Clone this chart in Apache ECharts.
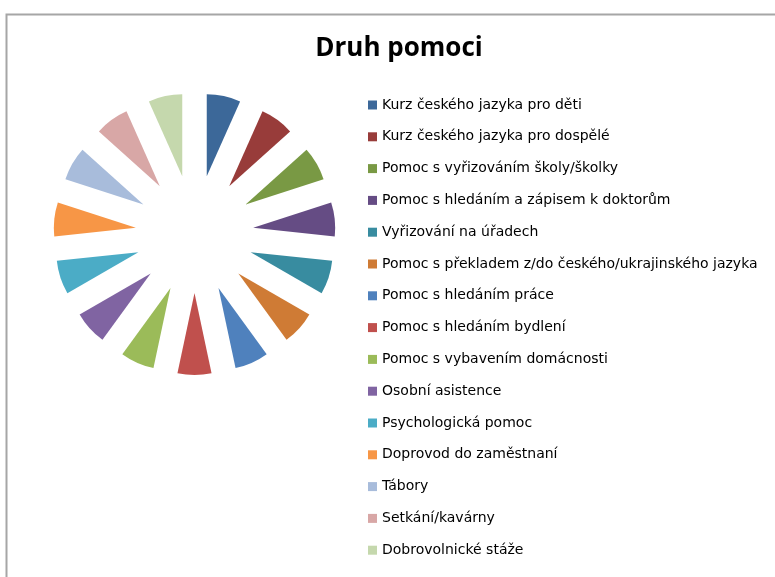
<!DOCTYPE html>
<html><head><meta charset="utf-8">
<script src="https://cdn.jsdelivr.net/npm/echarts@6/dist/echarts.min.js"></script>
<style>html,body{margin:0;padding:0;background:#fff}#c{width:775px;height:577px}</style>
</head><body><div id="c"></div>
<script>
const categories = [
  "Kurz českého jazyka pro děti",
  "Kurz českého jazyka pro dospělé",
  "Pomoc s vyřizováním školy/školky",
  "Pomoc s hledáním a zápisem k doktorům",
  "Vyřizování na úřadech",
  "Pomoc s překladem z/do českého/ukrajinského jazyka",
  "Pomoc s hledáním práce",
  "Pomoc s hledáním bydlení",
  "Pomoc s vybavením domácnosti",
  "Osobní asistence",
  "Psychologická pomoc",
  "Doprovod do zaměstnaní",
  "Tábory",
  "Setkání/kavárny",
  "Dobrovolnické stáže"
];
const values = [1,1,1,1,1,1,1,1,1,1,1,1,1,1,1];
const colors = ["#3C6899","#983C3A","#799944","#654C84","#388CA0","#CF7B35","#4F81BD","#C0504D","#9BBB59","#8064A2","#4BACC6","#F79646","#A8BCDB","#D8A7A6","#C5D8AD"];

const chart = echarts.init(document.getElementById('c'), null, {renderer:'canvas'});
chart.setOption({
  animation: false,
  color: colors,
  title: {
    text: 'Druh pomoci', left: 399, top: 36, textAlign: 'center', padding: 0,
    textStyle: {fontFamily: 'Open Sans', fontWeight: 'bold', fontSize: 26, color: '#000'}
  },
  legend: {
    orient: 'vertical', left: 368, top: 95, padding: 0,
    itemWidth: 9, itemHeight: 9, itemGap: 11.8,
    icon: 'rect',
    selectedMode: false,
    textStyle: {fontFamily: 'DejaVu Sans', fontSize: 14, color: '#000', lineHeight: 20},
    data: categories
  },
  graphic: [{
    type: 'rect', shape: {x: 6.5, y: 14.5, width: 800, height: 600},
    style: {fill: 'none', stroke: '#a6a6a6', lineWidth: 2}, silent: true, z: -1
  }],
  series: [{
    type: 'pie',
    center: [194.5, 234],
    radius: 82,
    startAngle: 90,
    clockwise: true,
    selectedMode: 'multiple',
    selectedOffset: 59,
    label: {show: false},
    labelLine: {show: false},
    emphasis: {disabled: true},
    itemStyle: {borderWidth: 0},
    data: categories.map((n, i) => ({name: n, value: values[i], selected: true}))
  }]
});
</script></body></html>
